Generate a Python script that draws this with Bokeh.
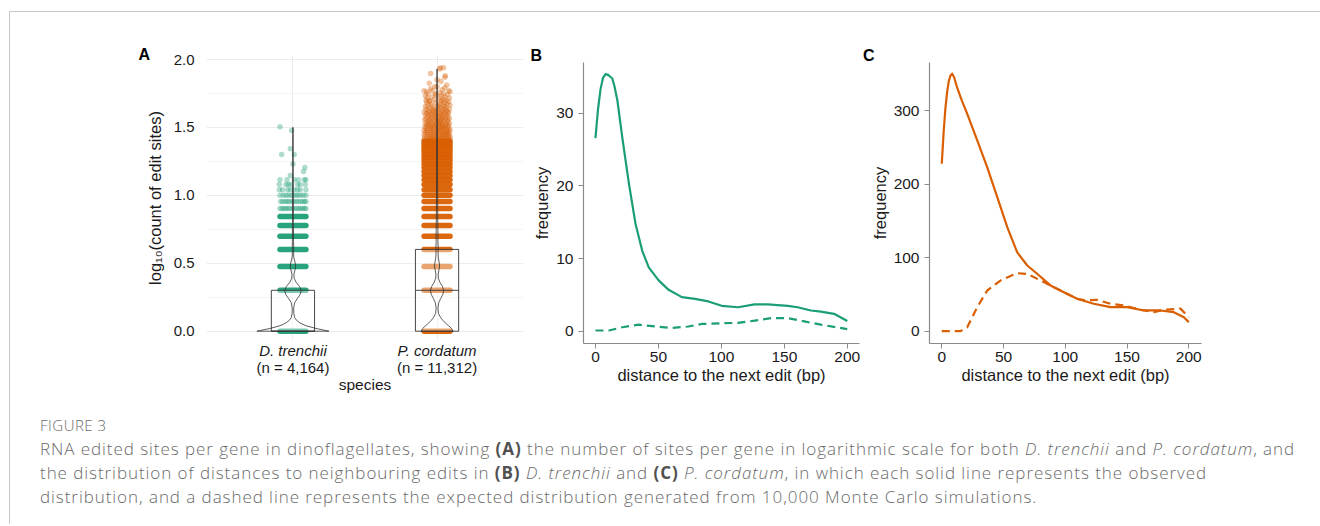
import numpy as np
from bokeh.plotting import figure
from bokeh.models import LinearAxis, FixedTicker, Div, PrintfTickFormatter
from bokeh.layouts import row, column
from bokeh.embed import file_html
from bokeh.resources import INLINE

TEAL = "#1b9e77"
ORANGE = "#d95f02"
FONT = "Liberation Sans"

# ---------------- Panel A data ----------------
species = ["D. trenchii", "P. cordatum"]
n_labels = ["(n = 4,164)", "(n = 11,312)"]
box_q1_count = [1, 1]
box_med_count = [1, 2]
box_q3_count = [2, 4]

# densely filled rows of jittered points (counts of edit sites)
dt_dense_counts = [1, 2, 3, 4, 5, 6, 7]
pc_dense_counts = list(range(1, 26))

# sparse jittered points: (count, jitter offsets as fraction of jitter half-width)
dt_sparse_rows = [
    (8, [-1, -.85, -.7, -.55, -.4, -.25, -.05, .1, .3, .45, .6, .75, .9, 1]),
    (9, [-.95, -.8, -.6, -.45, -.3, -.1, .05, .25, .4, .6, .75, .9, 1]),
    (10, [-1, -.75, -.55, -.35, -.15, .05, .25, .4, .6, .8, 1]),
    (11, [-1.05, -.8, -.4, -.2, .1, .36, .56, 1]),
    (12, [-1.05, -.54, -.36, -.15, .36, .55, .95]),
    (13, [-1, -.46, .1, .41, .87, 1]),
    (14, [-.2]), (15, [.82]), (16, [.92]), (17, [0]),
    (20, [-.87, .1]), (22, [-.2]), (30, [-.1]), (32, [-1]),
]
pc_sparse_rows = [
    (26, [-1, -.8, -.6, -.45, -.3, -.1, .05, .2, .4, .55, .7, .9, 1]),
    (27, [-.95, -.7, -.5, -.35, -.15, 0, .15, .35, .5, .65, .85, 1]),
    (28, [-1, -.75, -.55, -.3, -.1, .1, .3, .45, .6, .8, .95]),
    (29, [-.9, -.7, -.45, -.25, -.05, .2, .4, .6, .75, .9]),
    (30, [-1, -.8, -.5, -.3, 0, .15, .35, .55, .8, 1]),
    (31, [-.85, -.6, -.4, -.15, .1, .3, .5, .7, .95]),
    (32, [-.95, -.7, -.45, -.2, .05, .25, .45, .65, .85]),
    (33, [-.8, -.55, -.3, -.1, .2, .4, .6, .9]),
    (34, [-.9, -.65, -.35, -.05, .15, .35, .7, .95]),
    (35, [-.75, -.5, -.2, .1, .3, .55, .8]),
    (36, [-.95, -.6, -.3, 0, .25, .5, .85]),
    (37, [-.85, -.5, -.15, .1, .4, .65, .95]),
    (38, [-.7, -.4, -.1, .2, .45, .8]),
    (39, [-.9, -.55, -.2, .05, .35, .7]),
    (40, [-.8, -.45, -.1, .3, .6, .9]),
    (41, [-1, -.6, -.25, .15, .5, .85]),
    (42, [-.7, -.35, 0, .4, .75]),
    (43, [-.85, -.3, .1, .55, .95]),
    (44, [-.6, -.15, .3, .7]),
    (45, [-.9, -.4, .2, .6]),
    (46, [-.7, .05, .5, 1]),
    (47, [-.45, .25, .8]),
    (48, [-.8, -.1, .6]),
    (49, [-.55, .35, .9]),
    (50, [-.85, -.6, .3, .7]),
    (51, [-.2, .5]),
    (52, [-.75, .15, .95]),
    (53, [-.4, .6]),
    (54, [-.9, .3]),
    (55, [-.1, .8]),
    (56, [-.7, -.13, .5]),
    (57, [.2]),
    (58, [-.8, 1]),
    (59, [-1, -.38, .9]),
    (60, [.4]),
    (61, [-.5]),
    (62, [.6]),
    (63, [-.18, 0]),
    (65, [.75]),
    (67, [-.6]),
    (69, [.3]),
    (71, [0]),
    (74, [.6]),
    (76, [.64]),
    (79, [-.5]),
    (85, [.2]),
    (87, [.26, .51]),
]

# violin outlines: log10 levels and half widths (x units)
dt_violin_y = [0, .02, .04, .06, .08, .10, .13, .17, .21, .24, .27, .30, .33, .36, .39, .42,
               .45, .48, .51, .54, .58, .62, .66, .70, .80, 1.0, 1.2, 1.4, 1.5]
dt_violin_hw = [.25, .16, .09, .05, .025, .012, .006, .005, .012, .03, .05, .058, .045, .022, .008, .007,
                .014, .019, .014, .006, .004, .005, .004, .004, .003, .003, .002, .002, .001]
pc_violin_y = [0, .02, .04, .06, .08, .10, .13, .17, .21, .24, .27, .30, .33, .36, .39, .42,
               .45, .48, .51, .54, .58, .62, .66, .70, .74, .80, 1.0, 1.2, 1.4, 1.6, 1.8, 1.93]
pc_violin_hw = [.112, .1, .08, .058, .04, .025, .01, .006, .012, .025, .04, .046, .037, .02, .009, .008,
                .013, .018, .014, .009, .007, .008, .006, .007, .006, .005, .004, .003, .003, .002, .002, .001]

# ---------------- Panel B / C data ----------------
b_obs_x = [0, 2, 4, 6, 8, 10, 12, 13.4, 15, 17.4, 21.3, 26.6, 31.8, 37.1, 42.3, 50.2, 58.1, 68.6,
           79.1, 89.7, 100.2, 113.3, 126.4, 137, 152.8, 160.6, 171.1, 179, 189.5, 200]
b_obs_y = [26.6, 30.5, 33.3, 34.9, 35.4, 35.3, 35.0, 34.8, 33.8, 31.8, 26.7, 20.3, 14.8, 11.1, 8.8,
           7.0, 5.7, 4.7, 4.45, 4.1, 3.5, 3.3, 3.7, 3.7, 3.5, 3.3, 2.85, 2.7, 2.4, 1.4]
b_exp_x = [0, 10.7, 21.3, 34.4, 47.5, 60.7, 73.8, 84.3, 100.2, 113.3, 126.4, 139.6, 152.8, 165.9, 179, 200]
b_exp_y = [0.1, 0.1, 0.55, 0.9, 0.65, 0.45, 0.65, 1.0, 1.1, 1.15, 1.45, 1.8, 1.8, 1.35, 0.9, 0.3]

c_obs_x = [0, 1.5, 3, 4.5, 5.7, 7, 8.4, 10, 12.4, 16, 20.6, 28.7, 36.8, 44.9, 53, 61, 69.2, 77.2, 88,
           98.8, 109.6, 123, 136.6, 150.1, 163.6, 177, 187.9, 196, 200]
c_obs_y = [228, 272, 305, 328, 341, 348, 350.7, 346, 332, 315, 296, 260, 223, 182.6, 141.7, 107.6,
           89.5, 78.2, 62.3, 53.1, 44.1, 37.3, 32.7, 32.7, 28.2, 28.2, 25.9, 19, 12.3]
c_exp_x = [0, 15.1, 20.6, 28.7, 36.8, 47.5, 61, 69.2, 80, 93.4, 109.6, 115.8, 125.8, 136.6, 147.4,
           160.9, 171.7, 179.8, 193.3, 200]
c_exp_y = [0, 0, 5.4, 32.7, 55.4, 69, 79, 78, 69, 57.7, 44, 42, 42.7, 37.3, 35, 29.2, 26, 29.2, 30.7, 19]


def no_frame_align(p):
    try:
        p.frame_align = False
    except Exception:
        pass


def letter(p, text, offset, standoff):
    p.title.text = text
    p.title.align = "left"
    p.title.offset = offset
    p.title.standoff = standoff
    p.title.text_font = FONT
    p.title.text_font_size = "16px"
    p.title.text_font_style = "bold"
    p.title.text_color = "black"


# ---------------- Panel A ----------------
J = 0.09      # jitter half width
BOXW = 0.15   # box half width
pA = figure(width=520, height=386, x_range=(0.4, 2.6), y_range=(-0.0685, 2.0295),
            min_border_left=196, min_border_right=7, min_border_top=43, min_border_bottom=58,
            output_backend="svg", toolbar_location=None)
no_frame_align(pA)
pA.outline_line_color = None
pos = [1, 2]

for cx, col, dense, sparse in [(1, TEAL, dt_dense_counts, dt_sparse_rows),
                               (2, ORANGE, pc_dense_counts, pc_sparse_rows)]:
    ly = np.log10(np.array(dense, dtype=float))
    pA.segment(x0=cx - J, x1=cx + J, y0=ly, y1=ly, line_color=col, line_width=5.5,
               line_cap="round", line_alpha=0.95)
    px, py = [], []
    for c, offs in sparse:
        for o in offs:
            px.append(cx + o * J)
            py.append(np.log10(c))
    pA.scatter(px, py, size=5.5, fill_color=col, fill_alpha=0.36, line_color=None)

q1 = np.log10(box_q1_count)
q3 = np.log10(box_q3_count)
med = np.log10(box_med_count)
pA.quad(left=[p - BOXW for p in pos], right=[p + BOXW for p in pos], bottom=q1, top=q3,
        fill_color="white", fill_alpha=0.4, line_color="#333333", line_width=0.9)
pA.segment(x0=[p - BOXW for p in pos], x1=[p + BOXW for p in pos], y0=med, y1=med,
           line_color="#333333", line_width=0.9)

for cx, vy, hw in [(1, dt_violin_y, dt_violin_hw), (2, pc_violin_y, pc_violin_hw)]:
    vy = np.array(vy); hw = np.array(hw)
    xs = np.concatenate([cx - hw, (cx + hw)[::-1]])
    ys = np.concatenate([vy, vy[::-1]])
    pA.patch(xs, ys, fill_alpha=0, line_color="#333333", line_width=0.8)

pA.yaxis.ticker = FixedTicker(ticks=[0, 0.5, 1.0, 1.5, 2.0], minor_ticks=[0.25, 0.75, 1.25, 1.75])
pA.yaxis.formatter = PrintfTickFormatter(format="%.1f")
pA.yaxis.axis_label = "log\u2081\u2080(count of edit sites)"
pA.xaxis.ticker = FixedTicker(ticks=pos)
pA.xaxis.major_label_overrides = {1: species[0], 2: species[1]}
pA.xaxis.major_label_text_font_style = "italic"
pA.xaxis.axis_label = None
ax2 = LinearAxis(ticker=FixedTicker(ticks=pos),
                 major_label_overrides={1: n_labels[0], 2: n_labels[1]},
                 axis_label="species")
pA.add_layout(ax2, "below")
for ax in [pA.yaxis[0], pA.xaxis[0], ax2]:
    ax.axis_line_color = None
    ax.major_tick_line_color = None
    ax.minor_tick_line_color = None
    ax.major_tick_out = 0
    ax.major_tick_in = 0
    ax.minor_tick_out = 0
    ax.minor_tick_in = 0
    ax.major_label_text_font = FONT
    ax.major_label_text_font_size = "15px"
    ax.major_label_text_color = "#1a1a1a"
    ax.axis_label_text_font = FONT
    ax.axis_label_text_font_size = "15.5px"
    ax.axis_label_text_font_style = "normal"
    ax.axis_label_text_color = "#1a1a1a"
pA.yaxis.axis_label_text_font_size = "16.5px"
pA.xaxis[0].major_label_standoff = 1
ax2.major_label_standoff = -3
ax2.axis_label_standoff = -3
pA.yaxis.major_label_standoff = 12
pA.yaxis.axis_label_standoff = 7
pA.ygrid.grid_line_color = "#ececec"
pA.ygrid.minor_grid_line_color = "#f4f4f4"
pA.xgrid.grid_line_color = "#ececec"
letter(pA, "A", -68, -14)


def line_panel(width, left, right, xr, yr, yticks, col, ox, oy, ex, ey):
    p = figure(width=width, height=386, x_range=xr, y_range=yr,
               min_border_left=left, min_border_right=right, min_border_top=50, min_border_bottom=55,
               output_backend="svg", toolbar_location=None)
    no_frame_align(p)
    p.outline_line_color = None
    p.grid.grid_line_color = None
    p.line(ox, oy, line_color=col, line_width=2.2, line_join="round")
    p.line(ex, ey, line_color=col, line_width=2.2, line_dash="8 5")
    p.xaxis.ticker = FixedTicker(ticks=[0, 50, 100, 150, 200])
    p.yaxis.ticker = FixedTicker(ticks=yticks)
    p.xaxis.axis_label = "distance to the next edit (bp)"
    p.yaxis.axis_label = "frequency"
    for ax in [p.xaxis[0], p.yaxis[0]]:
        ax.axis_line_color = "#8a8a8a"
        ax.axis_line_width = 1.2
        ax.major_tick_line_color = "#8a8a8a"
        ax.major_tick_in = 0
        ax.major_tick_out = 5
        ax.minor_tick_line_color = None
        ax.minor_tick_out = 0
        ax.minor_tick_in = 0
        ax.major_label_text_font = FONT
        ax.major_label_text_font_size = "15.5px"
        ax.major_label_text_color = "#1a1a1a"
        ax.axis_label_text_font = FONT
        ax.axis_label_text_font_size = "16.5px"
        ax.axis_label_text_font_style = "normal"
        ax.axis_label_text_color = "#1a1a1a"
    p.xaxis.major_label_standoff = 3
    p.xaxis.axis_label_standoff = 1
    p.yaxis.major_label_standoff = 5
    p.yaxis.axis_label_standoff = 2
    return p


pB = line_panel(332, 51, 3, (-9.5, 209.7), (-1.69, 37.0), [0, 10, 20, 30], TEAL,
                b_obs_x, b_obs_y, b_exp_x, b_exp_y)
pC = line_panel(350, 67, 11, (-9.96, 210.3), (-16.8, 366.0), [0, 100, 200, 300], ORANGE,
                c_obs_x, c_obs_y, c_exp_x, c_exp_y)
letter(pB, "B", -53, -3)
letter(pC, "C", -66.5, -3)

caption_html = (
    '<div style="font-family:\'Open Sans\',Lato,sans-serif;font-weight:300;color:#6a6a6a;'
    'white-space:nowrap;">'
    '<div style="font-size:15px;line-height:18px;margin-bottom:3px;letter-spacing:0.5px;">FIGURE 3</div>'
    '<div style="font-size:17px;line-height:24px;letter-spacing:0.94px;">'
    'RNA edited sites per gene in dinoflagellates, showing <b style="color:#505050;font-weight:700">(A)</b> the number of sites per gene '
    'in logarithmic scale for both <i>D. trenchii</i> and <i>P. cordatum</i>, and<br>'
    'the distribution of distances to neighbouring edits in <b style="color:#505050;font-weight:700">(B)</b> <i>D. trenchii</i> and '
    '<b style="color:#505050;font-weight:700">(C)</b> <i>P. cordatum</i>, in which each solid line represents the observed<br>'
    'distribution, and a dashed line represents the expected distribution generated from 10,000 Monte Carlo simulations.'
    '</div></div>'
)
cap = Div(text=caption_html, width=1275, height=100, margin=(18, 0, 0, 30))

top_line = Div(text="", width=1311, height=1, margin=0, styles={"background-color": "#c8c8c8"})
left_line = Div(text="", width=1, height=512, margin=0, styles={"background-color": "#c8c8c8"})
content = column(row(pA, pB, pC), cap)
layout = column(top_line, row(left_line, content), margin=(11, 0, 0, 9))

open("out.html", "w").write(file_html(layout, INLINE))
